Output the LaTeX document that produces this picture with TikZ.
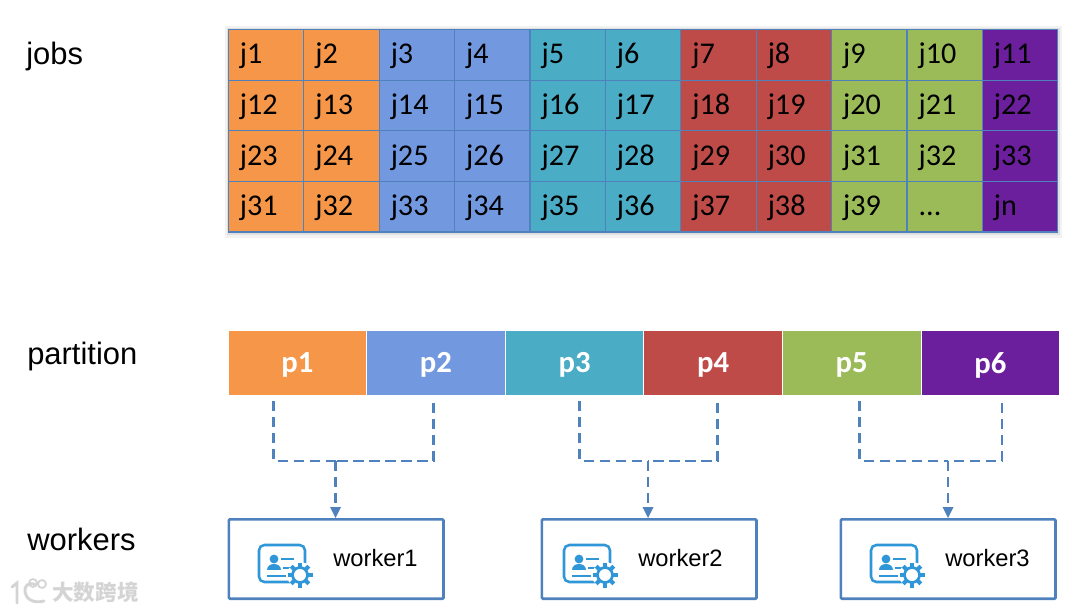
\documentclass[tikz,border=0pt]{standalone}
\usepackage{fontspec}
\setmainfont{Carlito}
\newfontfamily\helv{Liberation Sans}
\newfontfamily\cjk{Noto Sans CJK SC}
\usetikzlibrary{arrows.meta}
\definecolor{cOrange}{HTML}{F59648}
\definecolor{cBlue}{HTML}{7299E0}
\definecolor{cTeal}{HTML}{4BACC6}
\definecolor{cRed}{HTML}{BE4B48}
\definecolor{cGreen}{HTML}{9BBB59}
\definecolor{cPurple}{HTML}{6B1F9C}
\definecolor{cLine}{HTML}{4F81BD}
\definecolor{cIcon}{HTML}{2F96D8}
\definecolor{cMark}{HTML}{D4D4D4}
\tikzset{
  x=0.75pt,y=-0.75pt,
  cell/.style={draw=cLine,line width=0.9pt,minimum width=56.55pt,minimum height=37.9pt,inner sep=0pt,anchor=north west,text=black},
  celltext/.style={anchor=base west,inner sep=0pt,text=black,font=\fontsize{22.6}{23}\selectfont},
  part/.style={draw=white,line width=0.8pt,minimum width=103.95pt,minimum height=49pt,inner sep=0pt,anchor=north west,text=white,font=\fontsize{23}{23}\selectfont\bfseries},
  heading/.style={anchor=base west,inner sep=0pt,text=black,font=\helv\fontsize{23.2}{24}\selectfont},
  workerbox/.style={draw=cLine,line width=2pt,rounded corners=0.8pt,minimum width=161pt,minimum height=59.5pt,inner sep=0pt,anchor=north west},
  workerlabel/.style={anchor=base west,inner sep=0pt,text=black,font=\helv\fontsize{17.8}{18}\selectfont},
  link/.style={draw=cLine,line width=2.2pt,dash pattern=on 7.6pt off 4.4pt},
  tip/.style={draw=none,fill=cLine},
  wm/.style={anchor=base west,inner sep=0pt,text=cMark,font=\cjk\bfseries\fontsize{16.2}{17}\selectfont},
  pics/wicon/.style={code={
    \draw[cIcon,line width=1.9pt,rounded corners=4pt,line cap=round]
      (37,37) -- (0,37) -- (0,0) -- (46,0) -- (46,18);
    \fill[cIcon] (15,14) circle (3.3pt);
    \fill[cIcon] (8,25) .. controls (8,17) and (22,17) .. (22,25) -- cycle;
    \draw[cIcon,line width=1.6pt] (22,14) -- (35,14) (8,31) -- (27,31);
    \draw[cIcon,line width=1.6pt] (24,23) -- (33,23);
    \fill[white] (41,30) circle (13);
    \draw[cIcon,line width=2pt] (41,30) circle (7.5);
    \foreach \a in {0,45,...,315}
      \draw[cIcon,line width=3pt] (41,30) ++(\a:8) -- ++(\a:4.5);
  }}
}
\begin{document}
\begin{tikzpicture}
\useasboundingbox (0,0) rectangle (1080,613);
\fill[black!5] (225,26) rectangle (1062,238);
\fill[black!12] (227,28) rectangle (1060,235);
% jobs grid
\def\jobs{{"j1","j2","j3","j4","j5","j6","j7","j8","j9","j10","j11",
"j12","j13","j14","j15","j16","j17","j18","j19","j20","j21","j22",
"j23","j24","j25","j26","j27","j28","j29","j30","j31","j32","j33",
"j31","j32","j33","j34","j35","j36","j37","j38","j39","...","jn"}}
\def\cols{{"cOrange","cOrange","cBlue","cBlue","cTeal","cTeal","cRed","cRed","cGreen","cGreen","cPurple"}}
\foreach \r in {0,...,3} \foreach \c in {0,...,10} {
  \pgfmathsetmacro{\xx}{227.7+75.4*\c}
  \pgfmathsetmacro{\yy}{29+50.6*\r}
  \pgfmathtruncatemacro{\ii}{\r*11+\c}
  \pgfmathsetmacro{\tt}{\jobs[\ii]}
  \pgfmathsetmacro{\cc}{\cols[\c]}
  \node[cell,fill=\cc] (cell\ii) at (\xx,\yy) {};
  \node[celltext] (celltext\ii) at (\xx+12,\yy+35) {\tt};
}
% headings
\node[heading] (hjobs) at (26,65) {jobs};
\node[heading] (hpart) at (27,364) {partition};
\node[heading] (hwork) at (27,550) {workers};
% partitions
\foreach \i/\cc in {1/cOrange,2/cBlue,3/cTeal,4/cRed,5/cGreen,6/cPurple} {
  \pgfmathsetmacro{\xx}{227.5+138.6*(\i-1)}
  \node[part,fill=\cc,text depth=2pt] (p\i) at (\xx,329.5) {\raisebox{-2pt}{p\i}};
}
% workers
\node[workerbox] (w1) at (227.5,518) {};
\node[workerbox] (w2) at (540.5,518) {};
\node[workerbox] (w3) at (839.5,518) {};
\node[workerlabel] (wl1) at (333,566) {worker1};
\node[workerlabel] (wl2) at (638,566) {worker2};
\node[workerlabel] (wl3) at (945,566) {worker3};
\pic at (259,545) {wicon};
\pic at (564,545) {wicon};
\pic at (871,545) {wicon};
% connectors
\foreach \a/\b/\ax/\bx/\j/\w in {p1/p2/273.5/433.5/335.5/w1,p3/p4/579.5/717.5/648/w2,p5/p6/859.5/1002/948/w3} {
  \coordinate (\a s) at (\ax,401);
  \coordinate (\b s) at (\bx,403);
  \coordinate (\w j) at (\j,461);
  \coordinate (\w t) at (\j,518);
  \draw[link] (\a s) |- (\w j);
  \draw[link] (\b s) |- (\w j);
  \draw[link] (\w j) -- ([yshift=7.2pt]\w t);
  \fill[tip] (\w t) -- ++(-5.5,-11) -- ++(11,0) -- cycle;
}
% watermark
\draw[cMark,line width=2.2pt,line cap=round] (12,587) -- (17,583) -- (17,603);
\draw[cMark,line width=2.2pt,line cap=round] (36,585) .. controls (20,577) and (20,607) .. (44,601);
\draw[cMark,line width=1.3pt] (33,583) circle (4) (42,584) circle (4);
\node[wm] (wmark) at (52,600) {大数跨境};
\end{tikzpicture}
\end{document}
